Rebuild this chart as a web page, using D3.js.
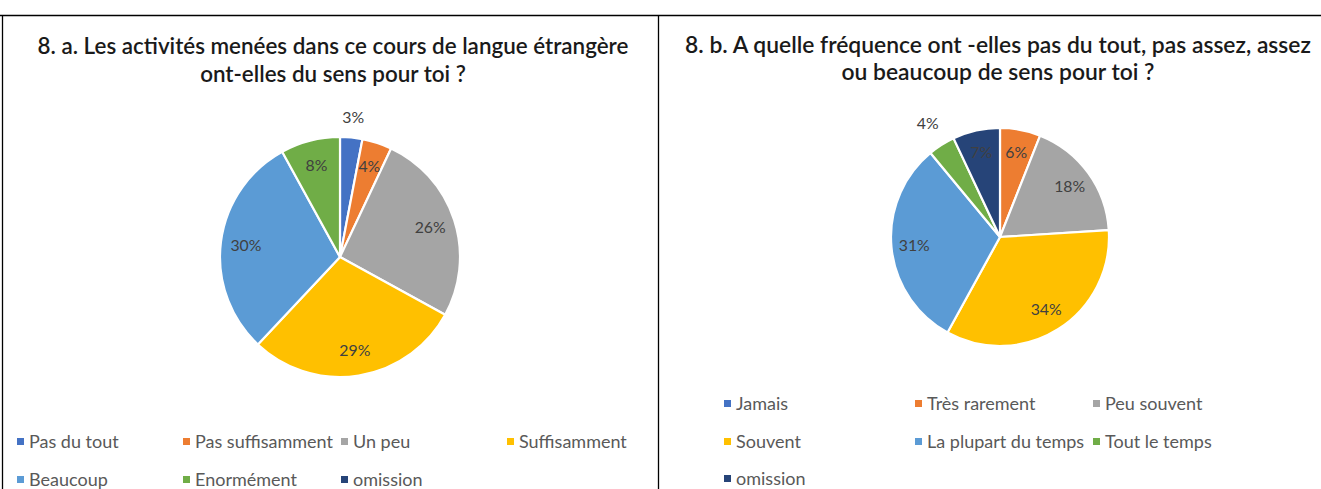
<!DOCTYPE html>
<html>
<head>
<meta charset="utf-8">
<script src="https://cdn.jsdelivr.net/npm/d3@7"></script>
<style>
  body { margin: 0; background: #fff; }
  svg { display: block; }
</style>
</head>
<body>
<div id="chart"></div>
<script>
// chart a
var catsA = ["Pas du tout", "Pas suffisamment", "Un peu", "Suffisamment", "Beaucoup", "Enormément", "omission"];
var valsA = [3, 4, 26, 29, 30, 8, 0];
var titleA = ["8. a. Les activités menées dans ce cours de langue étrangère", "ont-elles du sens pour toi ?"];

// chart b
var catsB = ["Jamais", "Très rarement", "Peu souvent", "Souvent", "La plupart du temps", "Tout le temps", "omission"];
var valsB = [0, 6, 18, 34, 31, 4, 7];
var titleB = ["8. b. A quelle fréquence ont -elles pas du tout, pas assez, assez", "ou beaucoup de sens pour toi ?"];

var palette = ["#4472C4", "#ED7D31", "#A5A5A5", "#FFC000", "#5B9BD5", "#70AD47", "#264478"];

var W = 1321, H = 489;
var svg = d3.select("#chart").append("svg").attr("width", W).attr("height", H);

// frame lines
svg.append("line").attr("x1", 0).attr("x2", W).attr("y1", 15.5).attr("y2", 15.5)
  .attr("stroke", "#000").attr("stroke-width", 1.3);
svg.append("line").attr("x1", 2.5).attr("x2", 2.5).attr("y1", 15).attr("y2", H)
  .attr("stroke", "#000").attr("stroke-width", 1.3);
svg.append("line").attr("x1", 658.5).attr("x2", 658.5).attr("y1", 15).attr("y2", H)
  .attr("stroke", "#000").attr("stroke-width", 1.3);

var font = "Lato, 'Open Sans', sans-serif";

// size a font so that a sample string gets a given width (Calibri stand-in)
function fit_size(str, weight, target){
  var t = svg.append("text").style("font-family", font).style("font-weight", weight)
    .style("font-size", "20px").text(str);
  var w = t.node().getComputedTextLength();
  t.remove();
  return 20 * target / w;
}

var labelSize = fit_size("26%", 400, 31);
var legendSize = fit_size("Pas suffisamment", 400, 138);

function draw_title(lines, cx, y1, y2, target){
  var fs = fit_size(lines[0], 600, target);
  lines.forEach(function(l, i){
    svg.append("text").attr("x", cx).attr("y", i ? y2 : y1).attr("text-anchor", "middle")
      .style("font-family", font).style("font-weight", 600).style("font-size", fs + "px")
      .attr("fill", "#1a1a1a").text(l);
  });
}

function draw_pie(cats, vals, cx, cy, r, outside, outOff){
  var data = cats.map(function(c, i){ return {name: c, value: vals[i], color: palette[i]}; });
  var pie = d3.pie().sort(null).value(function(d){ return d.value; });
  var arcs = pie(data).filter(function(d){ return d.data.value > 0; });
  var arc = d3.arc().innerRadius(0).outerRadius(r);
  var g = svg.append("g").attr("transform", "translate(" + cx + "," + cy + ")");

  g.selectAll("path").data(arcs)
    .enter().append("path")
    .attr("d", arc)
    .attr("fill", function(d){ return d.data.color; })
    .attr("stroke", "#fff").attr("stroke-width", 2.2).attr("stroke-linejoin", "round");

  var inArc = d3.arc().innerRadius(r * 0.79).outerRadius(r * 0.79);
  var outArc = d3.arc().innerRadius(r + outOff).outerRadius(r + outOff);

  g.selectAll("text.lbl").data(arcs)
    .enter().append("text")
    .attr("class", "lbl")
    .attr("transform", function(d){
      var p = outside.indexOf(d.data.name) >= 0 ? outArc.centroid(d) : inArc.centroid(d);
      return "translate(" + p[0] + "," + p[1] + ")";
    })
    .attr("text-anchor", "middle").attr("dy", "0.35em")
    .style("font-family", font).style("font-size", labelSize + "px")
    .attr("fill", "#404040")
    .text(function(d){ return d.data.value + "%"; });
}

function draw_legend(cats, cols, rows){
  cats.forEach(function(c, i){
    var x = cols[i % cols.length], y = rows[Math.floor(i / cols.length)];
    svg.append("rect").attr("x", x).attr("y", y - 4).attr("width", 7).attr("height", 7)
      .attr("fill", palette[i]);
    svg.append("text").attr("x", x + 12).attr("y", y).attr("dy", "0.35em")
      .style("font-family", font).style("font-size", legendSize + "px")
      .attr("fill", "#595959").text(c);
  });
}

draw_title(titleA, 333, 54, 82, 591);
draw_title(titleB, 998, 53, 80, 626);

draw_pie(catsA, valsA, 340, 257, 120, ["Pas du tout"], 20);
draw_pie(catsB, valsB, 1000, 237, 109, ["Tout le temps"], 26);

draw_legend(catsA, [17, 183, 341, 507], [442, 480]);
draw_legend(catsB, [724, 915, 1093], [404, 442, 479]);
</script>
</body>
</html>
